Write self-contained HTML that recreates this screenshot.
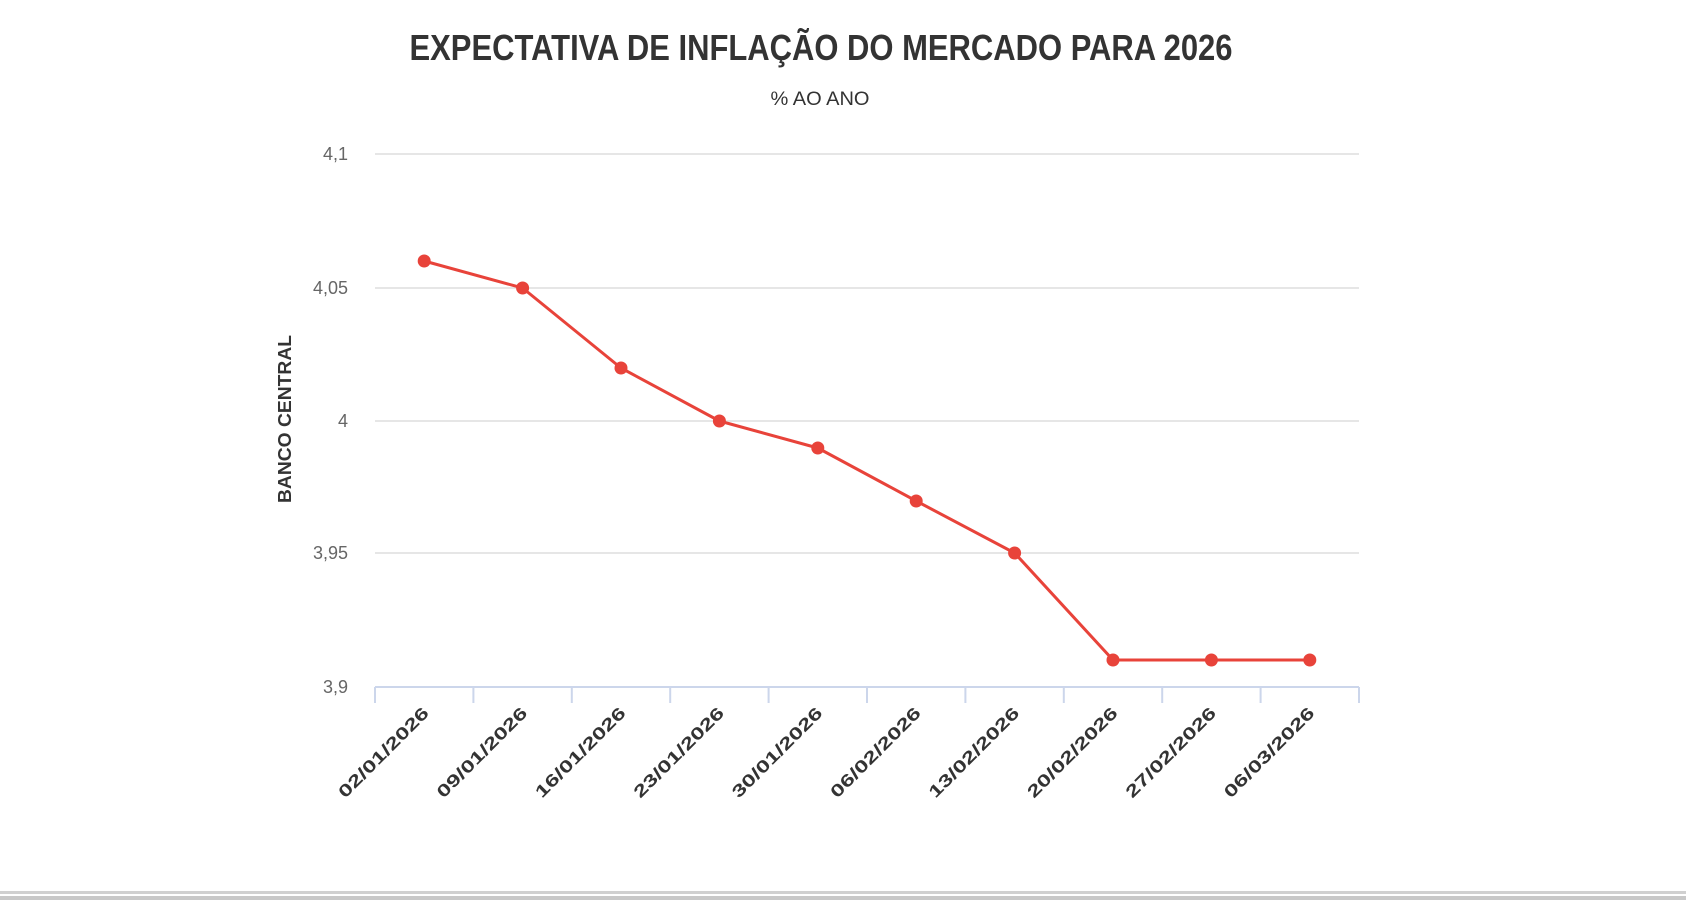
<!DOCTYPE html>
<html><head><meta charset="utf-8"><style>
html,body{margin:0;padding:0;background:#fff;}
svg{display:block;font-family:"Liberation Sans",sans-serif;}
</style></head><body>
<svg width="1686" height="900" viewBox="0 0 1686 900" xmlns="http://www.w3.org/2000/svg">
<rect width="1686" height="900" fill="#fff"/>
<text x="821" y="60" text-anchor="middle" font-size="36" font-weight="bold" fill="#333" textLength="823" lengthAdjust="spacingAndGlyphs">EXPECTATIVA DE INFLAÇÃO DO MERCADO PARA 2026</text>
<text x="820" y="105" text-anchor="middle" font-size="19" fill="#333" textLength="99" lengthAdjust="spacingAndGlyphs">% AO ANO</text>
<g stroke="#e6e6e6" stroke-width="2">
<line x1="375" y1="154" x2="1359" y2="154"/>
<line x1="375" y1="288" x2="1359" y2="288"/>
<line x1="375" y1="421" x2="1359" y2="421"/>
<line x1="375" y1="553" x2="1359" y2="553"/>
</g>
<line x1="375" y1="687" x2="1359" y2="687" stroke="#ccd6eb" stroke-width="2"/>
<g stroke="#ccd6eb" stroke-width="2">
<line x1="375" y1="687" x2="375" y2="703"/><line x1="473.4" y1="687" x2="473.4" y2="703"/>
<line x1="571.8" y1="687" x2="571.8" y2="703"/><line x1="670.2" y1="687" x2="670.2" y2="703"/>
<line x1="768.6" y1="687" x2="768.6" y2="703"/><line x1="867" y1="687" x2="867" y2="703"/>
<line x1="965.4" y1="687" x2="965.4" y2="703"/><line x1="1063.8" y1="687" x2="1063.8" y2="703"/>
<line x1="1162.2" y1="687" x2="1162.2" y2="703"/><line x1="1260.6" y1="687" x2="1260.6" y2="703"/>
<line x1="1359" y1="687" x2="1359" y2="703"/>
</g>
<g font-size="18" fill="#666" text-anchor="end">
<text x="348" y="160">4,1</text>
<text x="348" y="294">4,05</text>
<text x="348" y="427">4</text>
<text x="348" y="559">3,95</text>
<text x="348" y="693">3,9</text>
</g>
<text transform="translate(291,419) rotate(-90)" text-anchor="middle" font-size="18" font-weight="bold" fill="#333" textLength="168" lengthAdjust="spacingAndGlyphs">BANCO CENTRAL</text>
<g font-size="17" font-weight="bold" fill="#333" text-anchor="end">
<text transform="translate(430,714) rotate(-45)" textLength="120" lengthAdjust="spacingAndGlyphs">02/01/2026</text>
<text transform="translate(528.4,714) rotate(-45)" textLength="120" lengthAdjust="spacingAndGlyphs">09/01/2026</text>
<text transform="translate(626.8,714) rotate(-45)" textLength="120" lengthAdjust="spacingAndGlyphs">16/01/2026</text>
<text transform="translate(725.2,714) rotate(-45)" textLength="120" lengthAdjust="spacingAndGlyphs">23/01/2026</text>
<text transform="translate(823.6,714) rotate(-45)" textLength="120" lengthAdjust="spacingAndGlyphs">30/01/2026</text>
<text transform="translate(922,714) rotate(-45)" textLength="120" lengthAdjust="spacingAndGlyphs">06/02/2026</text>
<text transform="translate(1020.4,714) rotate(-45)" textLength="120" lengthAdjust="spacingAndGlyphs">13/02/2026</text>
<text transform="translate(1118.8,714) rotate(-45)" textLength="120" lengthAdjust="spacingAndGlyphs">20/02/2026</text>
<text transform="translate(1217.2,714) rotate(-45)" textLength="120" lengthAdjust="spacingAndGlyphs">27/02/2026</text>
<text transform="translate(1315.6,714) rotate(-45)" textLength="120" lengthAdjust="spacingAndGlyphs">06/03/2026</text>
</g>
<polyline fill="none" stroke="#e8433a" stroke-width="3" stroke-linejoin="round" points="424.2,261 522.6,288 621,368 719.4,421 817.8,448 916.2,501 1014.6,553 1113,660 1211.4,660 1309.8,660"/>
<g fill="#e8433a">
<circle cx="424.2" cy="261" r="6.5"/><circle cx="522.6" cy="288" r="6.5"/>
<circle cx="621" cy="368" r="6.5"/><circle cx="719.4" cy="421" r="6.5"/>
<circle cx="817.8" cy="448" r="6.5"/><circle cx="916.2" cy="501" r="6.5"/>
<circle cx="1014.6" cy="553" r="6.5"/><circle cx="1113" cy="660" r="6.5"/>
<circle cx="1211.4" cy="660" r="6.5"/><circle cx="1309.8" cy="660" r="6.5"/>
</g>
<rect x="0" y="891" width="1686" height="3" fill="#d0d0d0"/>
<rect x="0" y="896" width="1686" height="4" fill="#c8c8c8"/>
</svg>
</body></html>
